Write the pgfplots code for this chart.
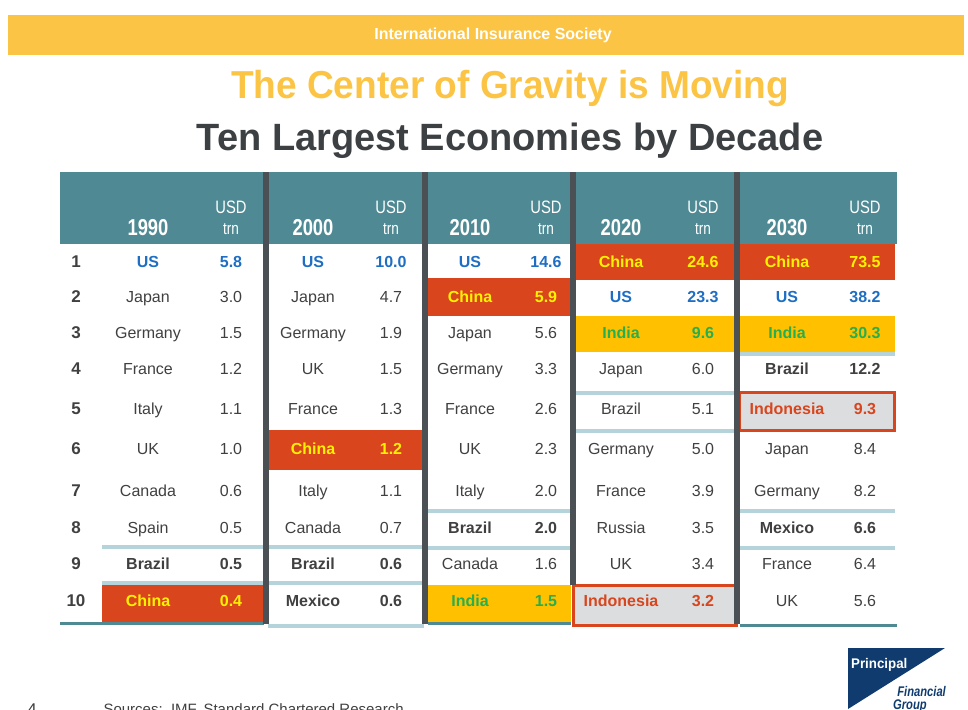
\documentclass[border=0pt]{standalone}
\usepackage{pgfplots}
\pgfplotsset{compat=1.18}
\usepackage{pgfplotstable}
\usepackage{fontspec}
\setmainfont{Liberation Sans}

\definecolor{barYellow}{HTML}{FCC444}
\definecolor{subGray}{HTML}{3C4043}
\definecolor{teal}{HTML}{4F8A94}
\definecolor{sepGray}{HTML}{4B5054}
\definecolor{ltBlue}{HTML}{B5D3DA}
\definecolor{chinaBg}{HTML}{D9451C}
\definecolor{chinaTx}{HTML}{FFF200}
\definecolor{indiaBg}{HTML}{FFC000}
\definecolor{indiaTx}{HTML}{27AE4F}
\definecolor{usBlue}{HTML}{1E6EC3}
\definecolor{indoRed}{HTML}{D9451C}
\definecolor{indoGray}{HTML}{DCDDDF}
\definecolor{txGray}{HTML}{404040}
\definecolor{navy}{HTML}{0F3B6E}

% columns: name x, value x, row centre y (pixels), country, USD trn
\pgfplotstableread{
xn xv y name val
148 231 297 Japan 3.0
148 231 333 Germany 1.5
148 231 369 France 1.2
148 231 409 Italy 1.1
148 231 449 UK 1.0
148 231 491 Canada 0.6
148 231 528 Spain 0.5
313 391 297 Japan 4.7
313 391 333 Germany 1.9
313 391 369 UK 1.5
313 391 409 France 1.3
313 391 491 Italy 1.1
313 391 528 Canada 0.7
470 546 333 Japan 5.6
470 546 369 Germany 3.3
470 546 409 France 2.6
470 546 449 UK 2.3
470 546 491 Italy 2.0
470 546 564 Canada 1.6
621 703 369 Japan 6.0
621 703 409 Brazil 5.1
621 703 449 Germany 5.0
621 703 491 France 3.9
621 703 528 Russia 3.5
621 703 564 UK 3.4
787 865 449 Japan 8.4
787 865 491 Germany 8.2
787 865 564 France 6.4
787 865 601 UK 5.6
}\plaintab
\pgfplotstableread{
xn xv y name val
148 231 564 Brazil 0.5
313 391 564 Brazil 0.6
313 391 601 Mexico 0.6
470 546 528 Brazil 2.0
787 865 369 Brazil 12.2
787 865 528 Mexico 6.6
}\boldtab
\pgfplotstableread{
xn xv y name val
148 231 262 US 5.8
313 391 262 US 10.0
470 546 262 US 14.6
621 703 297 US 23.3
787 865 297 US 38.2
}\ustab
\pgfplotstableread{
xn xv y name val
148 231 601 China 0.4
313 391 449 China 1.2
470 546 297 China 5.9
621 703 262 China 24.6
787 865 262 China 73.5
}\chinatab
\pgfplotstableread{
xn xv y name val
470 546 601 India 1.5
621 703 333 India 9.6
787 865 333 India 30.3
}\indiatab
\pgfplotstableread{
xn xv y name val
621 703 601 Indonesia 3.2
787 865 409 Indonesia 9.3
}\indotab
\pgfplotstableread{
x y r
76 262 1
76 297 2
76 333 3
76 369 4
76 409 5
76 449 6
76 491 7
76 528 8
76 564 9
76 601 10
}\ranktab

\tikzset{
  yr/.style={text=white, font=\bfseries\fontsize{23}{26}\selectfont, xscale=0.8, anchor=base},
  usd/.style={text=white, font=\fontsize{18}{20}\selectfont, xscale=0.82, anchor=base},
  trn/.style={text=white, font=\fontsize{17}{20}\selectfont, xscale=0.8, anchor=base},
}
\pgfplotsset{
  txtnode/.style={only marks, mark=none, nodes near coords align={anchor=base},
    every node near coord/.append style={inner sep=0pt, yshift=-5.5pt}},
  names/.style={txtnode, point meta=explicit symbolic,
    nodes near coords={\pgfplotspointmeta}},
  vals/.style={txtnode, point meta=explicit,
    nodes near coords={\pgfmathprintnumber[fixed,fixed zerofill,precision=1,assume math mode=true]{\pgfplotspointmeta}}},
  cls/.style 2 args={every node near coord/.append style={text=#1, font=#2}},
}
\newcommand\cellclass[3]{%
  \addplot[names, cls={#2}{#3}] table[x=xn, y=y, meta=name] {#1};
  \addplot[vals, cls={#2}{#3}] table[x=xv, y=y, meta=val] {#1};
}

\begin{document}
\begin{tikzpicture}
\begin{axis}[scale only axis, width=968pt, height=709pt,
  xmin=0, xmax=968, ymin=0, ymax=709, y dir=reverse,
  hide axis, clip=false]

% top bar and titles
\fill[barYellow] (8,15) rectangle (964,55);
\node[text=white, font=\bfseries\fontsize{16}{18}\selectfont, anchor=base] at (493,40) {International Insurance Society};
\node[text=barYellow, font=\bfseries\fontsize{39}{44}\selectfont, xscale=0.95, anchor=base] at (510,98) {The Center of Gravity is Moving};
\node[text=subGray, font=\bfseries\fontsize{38}{44}\selectfont, anchor=base] at (510,150) {Ten Largest Economies by Decade};

% header band
\fill[teal] (60,172) rectangle (897,244);

% highlighted cells
\fill[chinaBg] (102,585) rectangle (264,622);
\fill[chinaBg] (269,430) rectangle (423,470);
\fill[chinaBg] (428,278) rectangle (571,316);
\fill[indiaBg] (428,585) rectangle (571,622);
\fill[chinaBg] (575,244) rectangle (735,280);
\fill[indiaBg] (575,316) rectangle (735,352);
\fill[chinaBg] (740,244) rectangle (895,280);
\fill[indiaBg] (740,316) rectangle (895,352);

% light separators
\draw[ltBlue, line width=4pt] (102,547) -- (264,547);
\draw[ltBlue, line width=4pt] (102,583) -- (264,583);
\draw[ltBlue, line width=4pt] (268,547) -- (424,547);
\draw[ltBlue, line width=4pt] (268,583) -- (424,583);
\draw[ltBlue, line width=4pt] (268,626) -- (424,626);
\draw[ltBlue, line width=4pt] (428,511) -- (571,511);
\draw[ltBlue, line width=4pt] (428,548) -- (571,548);
\draw[ltBlue, line width=4pt] (575,393) -- (735,393);
\draw[ltBlue, line width=4pt] (575,431) -- (735,431);
\draw[ltBlue, line width=4pt] (740,354) -- (895,354);
\draw[ltBlue, line width=4pt] (740,511) -- (895,511);
\draw[ltBlue, line width=4pt] (740,548) -- (895,548);

% bottom teal lines
\draw[teal, line width=3pt] (60,623) -- (264,623);
\draw[teal, line width=3pt] (428,623) -- (571,623);
\draw[teal, line width=3pt] (740,625) -- (897,625);

% Indonesia boxes
\filldraw[fill=indoGray, draw=indoRed, line width=3pt] (573,585) rectangle (736,625);
\filldraw[fill=indoGray, draw=indoRed, line width=3pt] (739,392) rectangle (894,430);

% column separators
\draw[sepGray, line width=5.5pt] (266,172) -- (266,624);
\draw[sepGray, line width=5.5pt] (425,172) -- (425,624);
\draw[sepGray, line width=5.5pt] (573,172) -- (573,585);
\draw[sepGray, line width=5.5pt] (737,172) -- (737,624);

% header texts
\node[yr] at (148,235) {1990};
\node[yr] at (313,235) {2000};
\node[yr] at (470,235) {2010};
\node[yr] at (621,235) {2020};
\node[yr] at (787,235) {2030};
\node[usd] at (231,213) {USD};
\node[usd] at (391,213) {USD};
\node[usd] at (546,213) {USD};
\node[usd] at (703,213) {USD};
\node[usd] at (865,213) {USD};
\node[trn] at (231,234) {trn};
\node[trn] at (391,234) {trn};
\node[trn] at (546,234) {trn};
\node[trn] at (703,234) {trn};
\node[trn] at (865,234) {trn};

% ranks
\addplot[txtnode, point meta=explicit, nodes near coords={\pgfmathprintnumber[int detect,assume math mode=true]{\pgfplotspointmeta}},
  cls={txGray}{\bfseries\fontsize{17}{19}\selectfont}] table[x=x, y=y, meta=r] {\ranktab};

% table cells
\cellclass{\plaintab}{txGray}{\fontsize{16}{18}\selectfont}
\cellclass{\boldtab}{txGray}{\bfseries\fontsize{16}{18}\selectfont}
\cellclass{\ustab}{usBlue}{\bfseries\fontsize{16}{18}\selectfont}
\cellclass{\chinatab}{chinaTx}{\bfseries\fontsize{16}{18}\selectfont}
\cellclass{\indiatab}{indiaTx}{\bfseries\fontsize{16}{18}\selectfont}
\cellclass{\indotab}{indoRed}{\bfseries\fontsize{16}{18}\selectfont}

% footer
\node[text=txGray, font=\fontsize{17}{20}\selectfont, anchor=base] at (32,715) {4};
\node[text=txGray, font=\fontsize{15}{18}\selectfont, anchor=base west] at (100,714) {Sources:\ \ IMF, Standard Chartered Research};

% logo
\fill[navy] (848,648) -- (945,648) -- (848,709) -- cycle;
\node[text=white, font=\bfseries\fontsize{14}{16}\selectfont, anchor=base west, inner sep=0pt, xscale=0.95] at (851,668) {Principal};
\node[text=navy, font=\bfseries\itshape\fontsize{14}{16}\selectfont, anchor=base east, inner sep=0pt, xscale=0.8] at (946,696) {Financial};
\node[text=navy, font=\bfseries\itshape\fontsize{14}{16}\selectfont, anchor=base west, inner sep=0pt, xscale=0.8] at (893,709) {Group};
\end{axis}
\pgfresetboundingbox
\path[use as bounding box] (0,0) rectangle (968pt,709pt);
\end{tikzpicture}
\end{document}
